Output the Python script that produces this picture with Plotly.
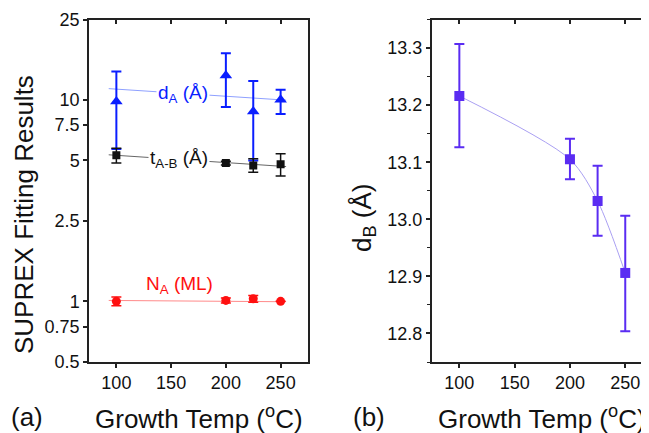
import plotly.graph_objects as go
import math

# ---- data ----
temps = [100, 200, 225, 250]

dA = [9.8, 13.2, 8.75, 10.0]
dA_hi = [13.8, 17.0, 12.4, 11.2]
dA_lo = [5.7, 9.2, 5.0, 8.5]

tAB = [5.3, 4.85, 4.72, 4.78]
tAB_hi = [5.75, 4.95, 5.1, 5.4]
tAB_lo = [4.85, 4.75, 4.37, 4.18]

NA = [1.0, 1.01, 1.03, 1.0]
NA_hi = [1.05, 1.04, 1.07, 1.0]
NA_lo = [0.95, 0.98, 0.99, 1.0]

fit_x = [93, 255]
dA_fit = [11.35, 9.95]
tAB_fit = [5.33, 4.66]
NA_fit = [1.01, 0.995]

dB = [13.216, 13.105, 13.032, 12.906]
dB_hi = [13.307, 13.141, 13.094, 13.006]
dB_lo = [13.126, 13.070, 12.971, 12.804]

x_ticks = [100, 150, 200, 250]
yl_ticks = [0.5, 0.75, 1, 2.5, 5, 7.5, 10, 25]
yl_labels = ["0.5", "0.75", "1", "2.5", "5", "7.5", "10", "25"]
yr_ticks = [12.8, 12.9, 13.0, 13.1, 13.2, 13.3]
yr_labels = ["12.8", "12.9", "13.0", "13.1", "13.2", "13.3"]

# page has an 8px body margin; work in page coords and shift
OFF = 8
W, H = 649 - OFF, 433 - OFF
FONT = "Liberation Sans, Arial, sans-serif"
AX = "#222222"
BLUE = "#0a1eff"
BLUE_L = "#8ea0ff"
RED = "#ff1010"
RED_L = "#ff8a8a"
BLK = "#111111"
BLK_L = "#666666"
PUR = "#5a2cf2"
PUR_L = "#aaa0f2"


def px(x):
    return (x - OFF) / W


def py(y):
    return 1 - (y - OFF) / H


def err(v, hi, lo):
    return dict(type="data", symmetric=False,
                array=[h - a for a, h in zip(v, hi)],
                arrayminus=[a - l for a, l in zip(v, lo)])


fig = go.Figure()

for yv, col in [(dA_fit, BLUE_L), (tAB_fit, BLK_L), (NA_fit, RED_L)]:
    fig.add_trace(go.Scatter(x=fit_x, y=yv, mode="lines", line=dict(color=col, width=1),
                             xaxis="x", yaxis="y", showlegend=False, hoverinfo="skip"))

fig.add_trace(go.Scatter(x=temps, y=dA, mode="markers", xaxis="x", yaxis="y",
                         marker=dict(symbol="triangle-up", size=11, color=BLUE),
                         error_y=dict(**err(dA, dA_hi, dA_lo), color=BLUE, thickness=2, width=5),
                         showlegend=False))
fig.add_trace(go.Scatter(x=temps, y=tAB, mode="markers", xaxis="x", yaxis="y",
                         marker=dict(symbol="square", size=8, color=BLK),
                         error_y=dict(**err(tAB, tAB_hi, tAB_lo), color=BLK, thickness=1.5, width=5),
                         showlegend=False))
fig.add_trace(go.Scatter(x=temps, y=NA, mode="markers", xaxis="x", yaxis="y",
                         marker=dict(symbol="circle", size=9, color=RED),
                         error_y=dict(**err(NA, NA_hi, NA_lo), color=RED, thickness=1.5, width=5),
                         showlegend=False))

fig.add_trace(go.Scatter(x=temps, y=dB, mode="lines", xaxis="x2", yaxis="y2",
                         line=dict(color=PUR_L, width=1, shape="spline", smoothing=0.8),
                         showlegend=False, hoverinfo="skip"))
fig.add_trace(go.Scatter(x=temps, y=dB, mode="markers", xaxis="x2", yaxis="y2",
                         marker=dict(symbol="square", size=10, color=PUR),
                         error_y=dict(**err(dB, dB_hi, dB_lo), color=PUR, thickness=2, width=5),
                         showlegend=False))

for xa, ya in [("x3", "y"), ("x", "y3"), ("x4", "y2"), ("x2", "y4")]:
    fig.add_trace(go.Scatter(x=[], y=[], xaxis=xa, yaxis=ya, showlegend=False, hoverinfo="skip"))

xdomL = [px(89), px(308)]
xdomR = [px(431.7), 1.0]
ydom = [py(362), py(19.5)]
xrL = [75, 275]
xrR = [75, 75 + (649 - 431.7) / 55.3 * 50]

tickfont = dict(family=FONT, size=18, color="#111")
common_x = dict(tickvals=x_ticks, ticktext=[str(v) for v in x_ticks], showgrid=False,
                zeroline=False, linecolor=AX, linewidth=1.5, tickcolor=AX, tickwidth=1.5,
                automargin=False)
ylog = [math.log10(0.5), math.log10(25)]

fig.update_layout(
    width=W, height=H, margin=dict(l=0, r=0, t=0, b=0),
    paper_bgcolor="white", plot_bgcolor="white",
    xaxis=dict(domain=xdomL, range=xrL, anchor="y", showline=True, ticks="outside", ticklen=4,
               tickfont=tickfont, **common_x),
    yaxis=dict(domain=ydom, type="log", range=ylog, anchor="x",
               tickvals=yl_ticks, ticktext=yl_labels, showline=True, ticks="outside", ticklen=4,
               tickfont=tickfont, showgrid=False, zeroline=False, linecolor=AX, linewidth=1.5,
               tickcolor=AX, tickwidth=1.5, automargin=False),
    xaxis3=dict(domain=xdomL, range=xrL, anchor="y", overlaying="x", side="top", showline=True,
                ticks="inside", ticklen=5, showticklabels=False, **common_x),
    yaxis3=dict(domain=ydom, type="log", range=ylog, anchor="x",
                overlaying="y", side="right", showline=True, ticks="", showticklabels=False,
                showgrid=False, zeroline=False, linecolor=AX, linewidth=1.5, automargin=False),
    xaxis2=dict(domain=xdomR, range=xrR, anchor="y2", showline=True, ticks="outside", ticklen=4,
                tickfont=tickfont, **common_x),
    yaxis2=dict(domain=ydom, range=[12.75, 13.35], anchor="x2", tickvals=yr_ticks, ticktext=yr_labels,
                showline=True, ticks="outside", ticklen=4, tickfont=tickfont, showgrid=False,
                zeroline=False, linecolor=AX, linewidth=1.5, tickcolor=AX, tickwidth=1.5,
                minor=dict(dtick=0.05, tick0=12.75, ticks="outside", ticklen=2.5, tickcolor=AX,
                           tickwidth=1, showgrid=False),
                automargin=False),
    xaxis4=dict(domain=xdomR, range=xrR, anchor="y2", overlaying="x2", side="top", showline=True,
                ticks="inside", ticklen=5, showticklabels=False, **common_x),
    yaxis4=dict(domain=ydom, range=[12.75, 13.35], anchor="x2", overlaying="y2", side="right",
                showline=False, tickvals=yr_ticks, ticks="inside", ticklen=4, tickcolor=AX, tickwidth=1.5,
                showticklabels=False, showgrid=False, zeroline=False,
                minor=dict(dtick=0.05, tick0=12.75, ticks="inside", ticklen=2.5, tickcolor=AX,
                           tickwidth=1, showgrid=False),
                automargin=False),
)

C = dict(xanchor="center", yanchor="middle", showarrow=False)
ann = []
lab = dict(family=FONT, size=19)
ann.append(dict(x=161, y=math.log10(10.7), xref="x", yref="y", text="d<sub>A</sub> (Å)",
                font=dict(color=BLUE, **lab), bgcolor="white", borderpad=1, **C))
ann.append(dict(x=157, y=math.log10(5.1), xref="x", yref="y", text="t<sub>A-B</sub> (Å)",
                font=dict(color=BLK, **lab), bgcolor="white", borderpad=1, **C))
ann.append(dict(x=158, y=math.log10(1.2), xref="x", yref="y", text="N<sub>A</sub> (ML)",
                font=dict(color=RED, **lab), **C))

big = dict(family=FONT, size=26, color="#111")
ann.append(dict(x=px(24), y=py(215), xref="paper", yref="paper", text="SUPREX Fitting Results",
                textangle=-90, font=big, **C))
ann.append(dict(x=px(198.5), y=py(417), xref="paper", yref="paper", text="Growth Temp (<sup>o</sup>C)",
                font=big, **C))
ann.append(dict(x=px(27), y=py(417), xref="paper", yref="paper", text="(a)", font=big, **C))
ann.append(dict(x=px(541.5), y=py(417), xref="paper", yref="paper", text="Growth Temp (<sup>o</sup>C)",
                font=big, **C))
ann.append(dict(x=px(369), y=py(417), xref="paper", yref="paper", text="(b)", font=big, **C))
ann.append(dict(x=px(363), y=py(218), xref="paper", yref="paper", text="d<sub>B</sub> (Å)",
                textangle=-90, font=big, **C))
fig.update_layout(annotations=ann)

fig.write_html("out.html")
